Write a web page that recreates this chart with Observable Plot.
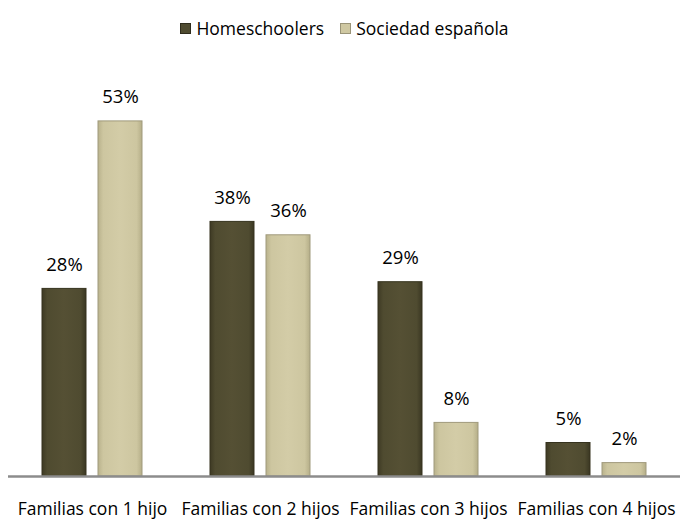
<!DOCTYPE html>
<html><head><meta charset="utf-8">
<script src="https://cdn.jsdelivr.net/npm/d3@7"></script>
<script src="https://cdn.jsdelivr.net/npm/@observablehq/plot@0.6"></script>
<style>
body{margin:0;background:#fff;font-family:"Open Sans",sans-serif;}
#legend{height:45px;display:flex;justify-content:center;align-items:center;gap:16px;font-size:17.5px;color:#000;padding-top:11px;box-sizing:border-box;padding-left:8px}
#legend span{display:inline-flex;align-items:center;}
#legend i{display:inline-block;width:11px;height:11px;margin-right:5px;box-sizing:border-box}
#chart{margin-top:3px}
svg{display:block}
</style></head>
<body>
<div id="legend"></div>
<div id="chart"></div>
<script>
const categories = ["Familias con 1 hijo","Familias con 2 hijos","Familias con 3 hijos","Familias con 4 hijos"];
const series = ["Homeschoolers","Sociedad española"];
const homeschoolers = [28,38,29,5];
const sociedad = [53,36,8,2];
const colors = ["#4f4b30","#cfc8a2"];

const data = [];
categories.forEach((c,i)=>{
  data.push({cat:c, serie:series[0], value:homeschoolers[i]});
  data.push({cat:c, serie:series[1], value:sociedad[i]});
});

const legend = document.getElementById("legend");
series.forEach((s,i)=>{
  const sp = document.createElement("span");
  sp.innerHTML = `<i style="background:${colors[i]};border:1px solid ${i?'#9a9478':'#2f2c1c'}"></i>${s}`;
  legend.appendChild(sp);
});

const chart = Plot.plot({
  width: 681,
  height: 475,
  marginLeft: 7,
  marginRight: 0,
  marginTop: 26,
  marginBottom: 47,
  style: {fontFamily: "'Open Sans', sans-serif", fontSize: "17.5px", color:"#000", background:"#fff"},
  fx: {domain: categories, padding: 0, label: null, tickSize: 0, tickPadding: 26, axis: "bottom"},
  x: {domain: series, paddingInner: 0.21, paddingOuter: 0.59, axis: null},
  y: {domain: [0, 60], axis: null},
  marks: [
    Plot.barY(data, {fx: "cat", x: "serie", y: "value", fill: d => d.serie === series[0] ? "url(#gDark)" : "url(#gLight)", stroke: d => d.serie === series[0] ? "#36331f" : "#a09a7c", strokeWidth: 1}),
    Plot.text(data, {fx: "cat", x: "serie", y: "value", text: d => d.value + "%", dy: -24, fontSize: 18.5, fill: "#000"}),
    Plot.ruleY([0], {stroke: "#8c8c8c", strokeWidth: 2.5})
  ]
});
const ns = "http://www.w3.org/2000/svg";
const defs = document.createElementNS(ns, "defs");
defs.innerHTML = `
<linearGradient id="gDark" x1="0" x2="1" y1="0" y2="0">
  <stop offset="0" stop-color="#3e3a24"/><stop offset="0.12" stop-color="#4f4b30"/>
  <stop offset="0.5" stop-color="#555034"/><stop offset="0.88" stop-color="#4f4b30"/><stop offset="1" stop-color="#3a3722"/>
</linearGradient>
<linearGradient id="gLight" x1="0" x2="1" y1="0" y2="0">
  <stop offset="0" stop-color="#b9b28c"/><stop offset="0.12" stop-color="#cdc6a0"/>
  <stop offset="0.5" stop-color="#d3cca7"/><stop offset="0.88" stop-color="#cdc6a0"/><stop offset="1" stop-color="#b5ae88"/>
</linearGradient>`;
chart.insertBefore(defs, chart.firstChild);
document.getElementById("chart").appendChild(chart);
</script>
</body></html>
